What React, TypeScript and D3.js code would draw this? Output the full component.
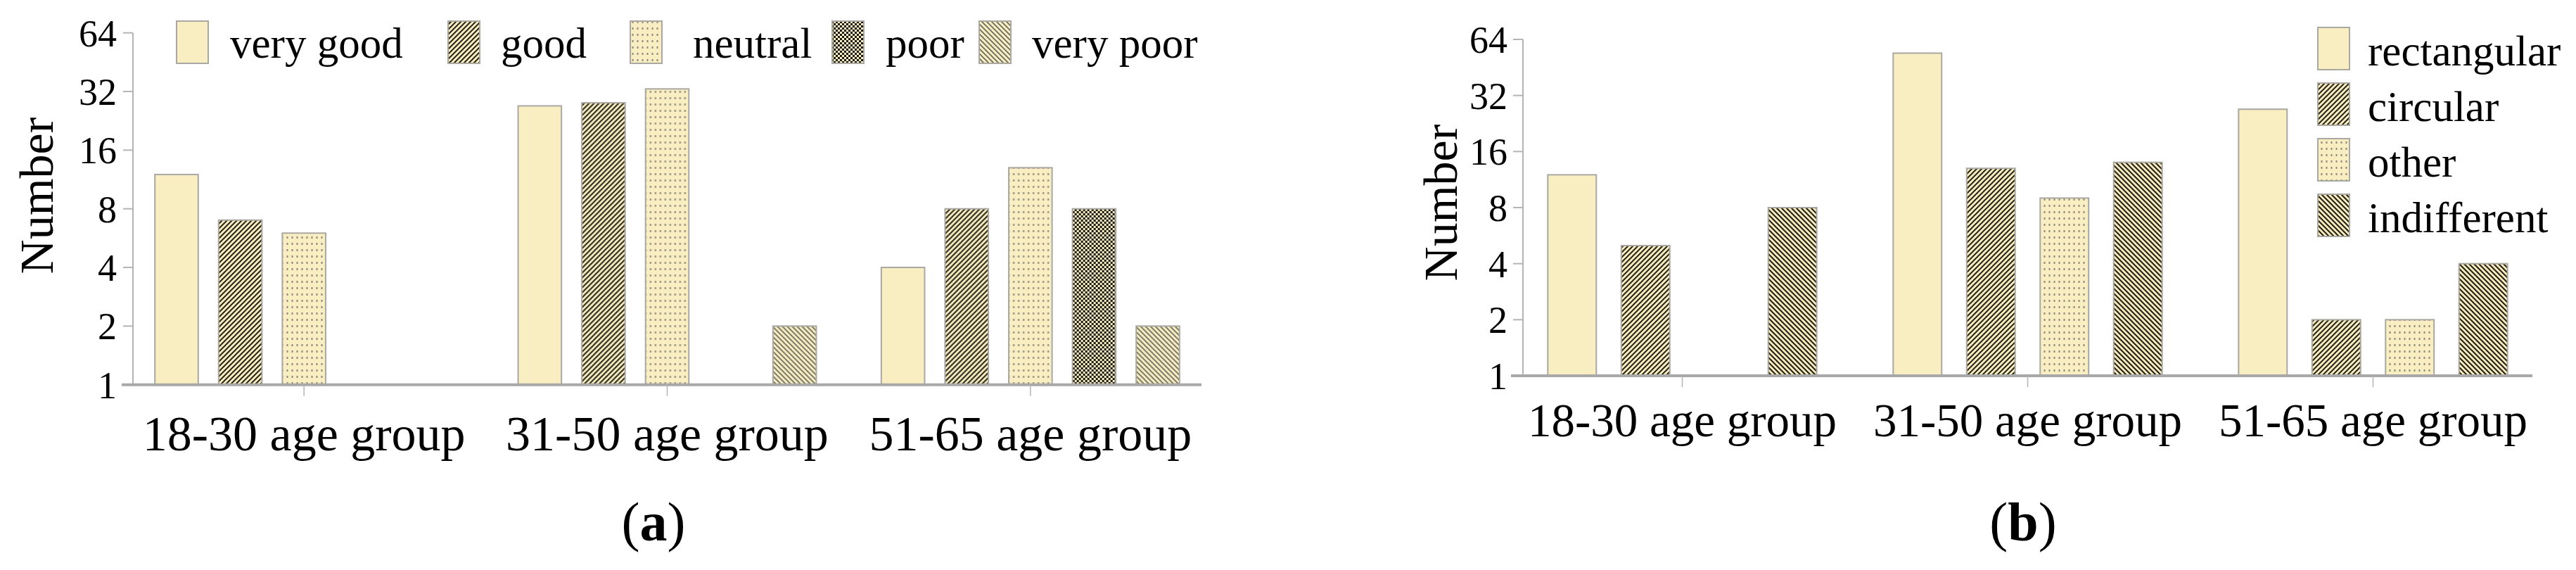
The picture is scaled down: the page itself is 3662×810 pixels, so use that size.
import React from "react";
import * as d3 from "d3";

// age groups shared by both panels
const groups = ["18-30 age group", "31-50 age group", "51-65 age group"];
const yTicks = [1, 2, 4, 8, 16, 32, 64];

// panel (a): rating of the design
const ratingSeries = ["very good", "good", "neutral", "poor", "very poor"];
const veryGood = [12, 27, 4];
const good = [7, 28, 8];
const neutral = [6, 33, 13];
const poor = [0, 0, 8];
const veryPoor = [0, 2, 2];

// panel (b): preferred shape
const shapeSeries = ["rectangular", "circular", "other", "indifferent"];
const rectangular = [12, 54, 27];
const circular = [5, 13, 2];
const other = [0, 9, 2];
const indifferent = [8, 14, 4];

const FILL = "#f8eec2";
const DARK = "#2a2518";
const EDGE = "#a9a8a2";
const FONT = "'Liberation Serif', 'Times New Roman', serif";

type Panel = {
  series: string[];
  values: number[][];
  patterns: string[];
  yAxisX: number;
  yTop: number;
  yBottom: number;
  band: [number, number];
  axisLine: [number, number];
  innerPad: [number, number];
  tickLabelX: number;
  catBaseline: number;
  catFont: number;
  numberX: number;
  numberY: number;
  caption: string;
  captionX: number;
  legend: { x: number; y: number; tx: number; ty: number }[];
};

const panelA: Panel = {
  series: ratingSeries,
  values: [veryGood, good, neutral, poor, veryPoor],
  patterns: ["solid", "fwd", "dots", "checker", "bwdLight"],
  yAxisX: 189,
  yTop: 46.7,
  yBottom: 546.7,
  band: [174, 1723],
  axisLine: [173, 1708],
  innerPad: [0.32, 0.51],
  tickLabelX: 166,
  catBaseline: 640,
  catFont: 70,
  numberX: 75,
  numberY: 278,
  caption: "a",
  captionX: 929,
  legend: [251, 637, 896, 1183, 1392].map((x, i) => ({
    x,
    y: 30,
    tx: [327, 712, 985, 1259, 1467][i],
    ty: 82,
  })),
};

const panelB: Panel = {
  series: shapeSeries,
  values: [rectangular, circular, other, indifferent],
  patterns: ["solid", "fwd", "dots", "bwdDark"],
  yAxisX: 2165,
  yTop: 56,
  yBottom: 534,
  band: [2146, 3619],
  axisLine: [2148, 3600],
  innerPad: [0.34, 0.52],
  tickLabelX: 2143,
  catBaseline: 620,
  catFont: 67,
  numberX: 2071,
  numberY: 288,
  caption: "b",
  captionX: 2876,
  legend: [0, 1, 2, 3].map((i) => ({
    x: 3295,
    y: 39 + i * 79,
    tx: 3366,
    ty: 93 + i * 79,
  })),
};

const fillFor = (p: string) => (p === "solid" ? FILL : `url(#${p})`);

function Chart({ cfg }: { cfg: Panel }) {
  const y = d3.scaleLog().base(2).domain([1, 64]).range([cfg.yBottom, cfg.yTop]);
  const x0 = d3.scaleBand<string>().domain(groups).range(cfg.band).padding(0);
  const x1 = d3
    .scaleBand<string>()
    .domain(cfg.series)
    .range([0, x0.bandwidth()])
    .paddingInner(cfg.innerPad[0])
    .paddingOuter(cfg.innerPad[1]);

  return (
    <g fontFamily={FONT} fill="#000">
      {/* bars */}
      {groups.map((g, gi) => (
        <g key={g} transform={`translate(${x0(g)},0)`}>
          {cfg.series.map((s, si) => {
            const v = cfg.values[si][gi];
            if (!v) return null;
            return (
              <rect
                key={s}
                x={x1(s)}
                y={y(v)}
                width={x1.bandwidth()}
                height={y(1) - y(v)}
                fill={fillFor(cfg.patterns[si])}
                stroke={EDGE}
                strokeWidth={2}
              />
            );
          })}
        </g>
      ))}

      {/* y axis */}
      <line x1={cfg.yAxisX} x2={cfg.yAxisX} y1={y(64)} y2={y(1)} stroke="#b4b4b4" strokeWidth={2} />
      {yTicks.map((t) => (
        <g key={t}>
          <line x1={cfg.yAxisX - 14} x2={cfg.yAxisX} y1={y(t)} y2={y(t)} stroke="#b4b4b4" strokeWidth={2} />
          <text x={cfg.tickLabelX} y={y(t) + 19} fontSize={54} textAnchor="end">
            {t}
          </text>
        </g>
      ))}

      {/* x axis */}
      <line
        x1={cfg.axisLine[0]}
        x2={cfg.axisLine[1]}
        y1={y(1)}
        y2={y(1)}
        stroke="#a8a8a8"
        strokeWidth={4}
      />
      {groups.map((g) => {
        const cx = (x0(g) ?? 0) + x0.bandwidth() / 2;
        return (
          <g key={g}>
            <line x1={cx} x2={cx} y1={y(1)} y2={y(1) + 16} stroke="#b4b4b4" strokeWidth={1.5} />
            <text x={cx} y={cfg.catBaseline} fontSize={cfg.catFont} textAnchor="middle">
              {g}
            </text>
          </g>
        );
      })}

      <text
        transform={`translate(${cfg.numberX},${cfg.numberY}) rotate(-90)`}
        fontSize={68}
        textAnchor="middle"
      >
        Number
      </text>

      {/* legend */}
      {cfg.series.map((s, i) => (
        <g key={s}>
          <rect
            x={cfg.legend[i].x}
            y={cfg.legend[i].y}
            width={45}
            height={60}
            fill={fillFor(cfg.patterns[i])}
            stroke={EDGE}
            strokeWidth={2}
          />
          <text x={cfg.legend[i].tx} y={cfg.legend[i].ty} fontSize={61}>
            {s}
          </text>
        </g>
      ))}

      <text x={cfg.captionX} y={768} fontSize={78} textAnchor="middle">
        (<tspan fontWeight="bold">{cfg.caption}</tspan>)
      </text>
    </g>
  );
}

export default function App() {
  return (
    <svg
      width={3662}
      height={810}
      style={{ position: "absolute", left: 0, top: 0, background: "#fff" }}
    >
      <defs>
        {/* integer tiles so the hatching stays on the pixel grid */}
        <pattern id="fwd" width={7} height={7} patternUnits="userSpaceOnUse">
          <rect width={7} height={7} fill={FILL} />
          <path d="M0,7L7,0M-1,1L1,-1M6,8L8,6" stroke={DARK} strokeWidth={2} />
        </pattern>
        <pattern id="bwdLight" width={7} height={7} patternUnits="userSpaceOnUse">
          <rect width={7} height={7} fill={FILL} />
          <path d="M0,0L7,7M-1,6L1,8M6,-1L8,1" stroke="#6f6b5e" strokeWidth={1.8} />
        </pattern>
        <pattern id="bwdDark" width={7} height={7} patternUnits="userSpaceOnUse">
          <rect width={7} height={7} fill={FILL} />
          <path d="M0,0L7,7M-1,6L1,8M6,-1L8,1" stroke={DARK} strokeWidth={2.2} />
        </pattern>
        <pattern id="dots" width={7} height={9} patternUnits="userSpaceOnUse">
          <rect width={7} height={9} fill={FILL} />
          <rect x={2.5} y={3} width={2} height={3} fill="#8f887a" />
        </pattern>
        <pattern id="checker" width={6} height={6} patternUnits="userSpaceOnUse">
          <rect width={6} height={6} fill={FILL} />
          <rect width={3} height={3} fill="#1c1a14" />
          <rect x={3} y={3} width={3} height={3} fill="#1c1a14" />
        </pattern>
      </defs>
      <rect width={3662} height={810} fill="#fff" />
      <Chart cfg={panelA} />
      <Chart cfg={panelB} />
    </svg>
  );
}
